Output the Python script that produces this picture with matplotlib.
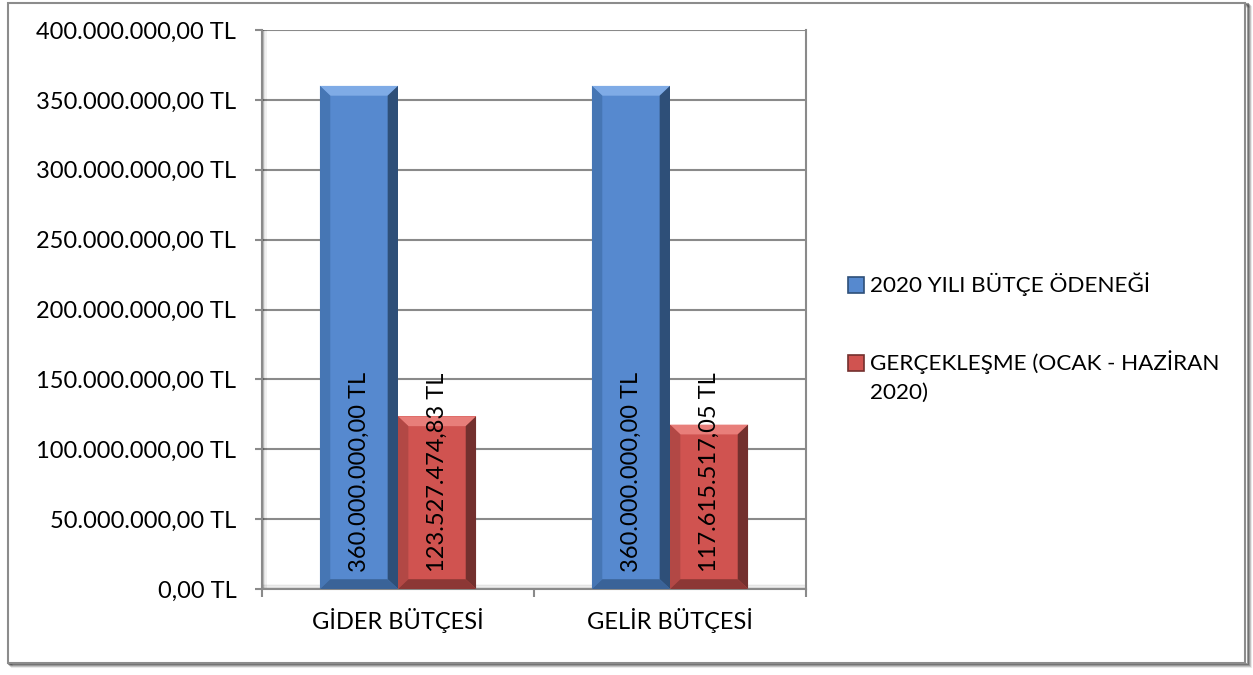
import matplotlib.pyplot as plt
from matplotlib.patches import Rectangle, Polygon
import numpy as np

plt.rcParams['font.family'] = ['Lato', 'DejaVu Sans']

categories = ["GİDER BÜTÇESİ", "GELİR BÜTÇESİ"]
series_names = ["2020 YILI BÜTÇE ÖDENEĞİ", "GERÇEKLEŞME (OCAK - HAZİRAN\n2020)"]
budget = [360000000.00, 360000000.00]
actual = [123527474.83, 117615517.05]
value_labels_budget = ["360.000.000,00 TL", "360.000.000,00 TL"]
value_labels_actual = ["123.527.474,83 TL", "117.615.517,05 TL"]
yticks = np.arange(0, 400000001, 50000000)


def tl(v):
    s = f"{v:,.2f}"
    return s.replace(",", "X").replace(".", ",").replace("X", ".") + " TL"


fig = plt.figure(figsize=(12.53, 6.75), dpi=100)

# outer frame with a soft shadow on the right and bottom
for i, a in enumerate([0.08, 0.16, 0.26, 0.38]):
    off = 4 - i
    fig.add_artist(Rectangle(((8 + off) / 1253, (12 - off) / 675), 1239 / 1253, 660 / 675,
                             transform=fig.transFigure, facecolor='none',
                             edgecolor=(0, 0, 0, a), lw=1.5, zorder=-3))
fig.add_artist(Rectangle((8 / 1253, 12 / 675), 1237 / 1253, 660 / 675,
                         transform=fig.transFigure, facecolor='white',
                         edgecolor='#8c8c8c', lw=1.5, zorder=-2))

ax = fig.add_axes([262 / 1253, 86 / 675, 544 / 1253, 559 / 675])
ax.set_zorder(1)
ax.patch.set_alpha(0)
ax.set_ylim(0, 400000000)
ax.set_xlim(-0.5, 1.5)

# faint inner shadow along the left and bottom of the plot area
for i, a in enumerate([0.22, 0.14, 0.07]):
    ax.axvline(-0.5 + (i + 1) * 0.0045, color='black', alpha=a, lw=1.2, zorder=1)
    ax.axhline((i + 1) * 900000, color='black', alpha=a * 0.6, lw=1.2, zorder=1)

x = np.arange(len(categories))
w = 0.287

styles = [
    dict(main='#5689cf', top='#7fabe6', left='#4676b4', right='#2e4f78', bottom='#3a6398'),
    dict(main='#d05350', top='#e87e7a', left='#b24845', right='#73302e', bottom='#8c3735'),
]

dx = 0.038
dy = 7000000

for k, (vals, labs) in enumerate([(budget, value_labels_budget), (actual, value_labels_actual)]):
    st = styles[k]
    for i, v in enumerate(vals):
        x0 = x[i] - w + k * w
        x1 = x0 + w
        ax.bar(x0, v, width=w, align='edge', color=st['main'], zorder=2)
        ax.add_patch(Polygon([(x0, v), (x1, v), (x1 - dx, v - dy), (x0 + dx, v - dy)],
                             closed=True, color=st['top'], zorder=3, lw=0))
        ax.add_patch(Polygon([(x0, 0), (x0, v), (x0 + dx, v - dy), (x0 + dx, dy)],
                             closed=True, color=st['left'], zorder=3, lw=0))
        ax.add_patch(Polygon([(x1, 0), (x1, v), (x1 - dx, v - dy), (x1 - dx, dy)],
                             closed=True, color=st['right'], zorder=3, lw=0))
        ax.add_patch(Polygon([(x0, 0), (x1, 0), (x1 - dx, dy), (x0 + dx, dy)],
                             closed=True, color=st['bottom'], zorder=3, lw=0))
        ax.text(x0 + w / 2, 12500000, labs[i], rotation=90, ha='center', va='bottom',
                fontsize=17, color='black', zorder=5)

ax.set_yticks(yticks)
ax.set_yticklabels([tl(v) for v in yticks], fontsize=17)
ax.yaxis.grid(True, color='#8a8a8a', lw=1.5, zorder=0)
ax.set_axisbelow(True)

ax.set_xticks([-0.5, 0.5, 1.5])
ax.set_xticklabels([])
ax.set_xticks(x, minor=True)
ax.set_xticklabels(categories, minor=True, fontsize=17)
ax.tick_params(axis='x', which='minor', length=0, pad=14)
ax.tick_params(axis='x', which='major', length=5.5, color='#8a8a8a', width=1.5)
ax.tick_params(axis='y', length=5, color='#8a8a8a', width=1.5, pad=13.5)

for s in ['left', 'right', 'bottom']:
    ax.spines[s].set_color('#8a8a8a')
    ax.spines[s].set_linewidth(1.5)
ax.spines['top'].set_visible(False)

# legend drawn by hand so the marker sits on the first line
leg_y = [285, 363]
for k, name in enumerate(series_names):
    yc = 1 - leg_y[k] / 675
    fig.add_artist(Rectangle((848 / 1253, yc - 8 / 675), 16 / 1253, 16 / 675,
                             transform=fig.transFigure, facecolor=styles[k]['main'],
                             edgecolor=styles[k]['right'], lw=1.2))
    fig.text(870 / 1253, yc + 13 / 675, name, ha='left', va='top', fontsize=16.2,
             linespacing=1.55)

fig.savefig("out.png", dpi=100)
